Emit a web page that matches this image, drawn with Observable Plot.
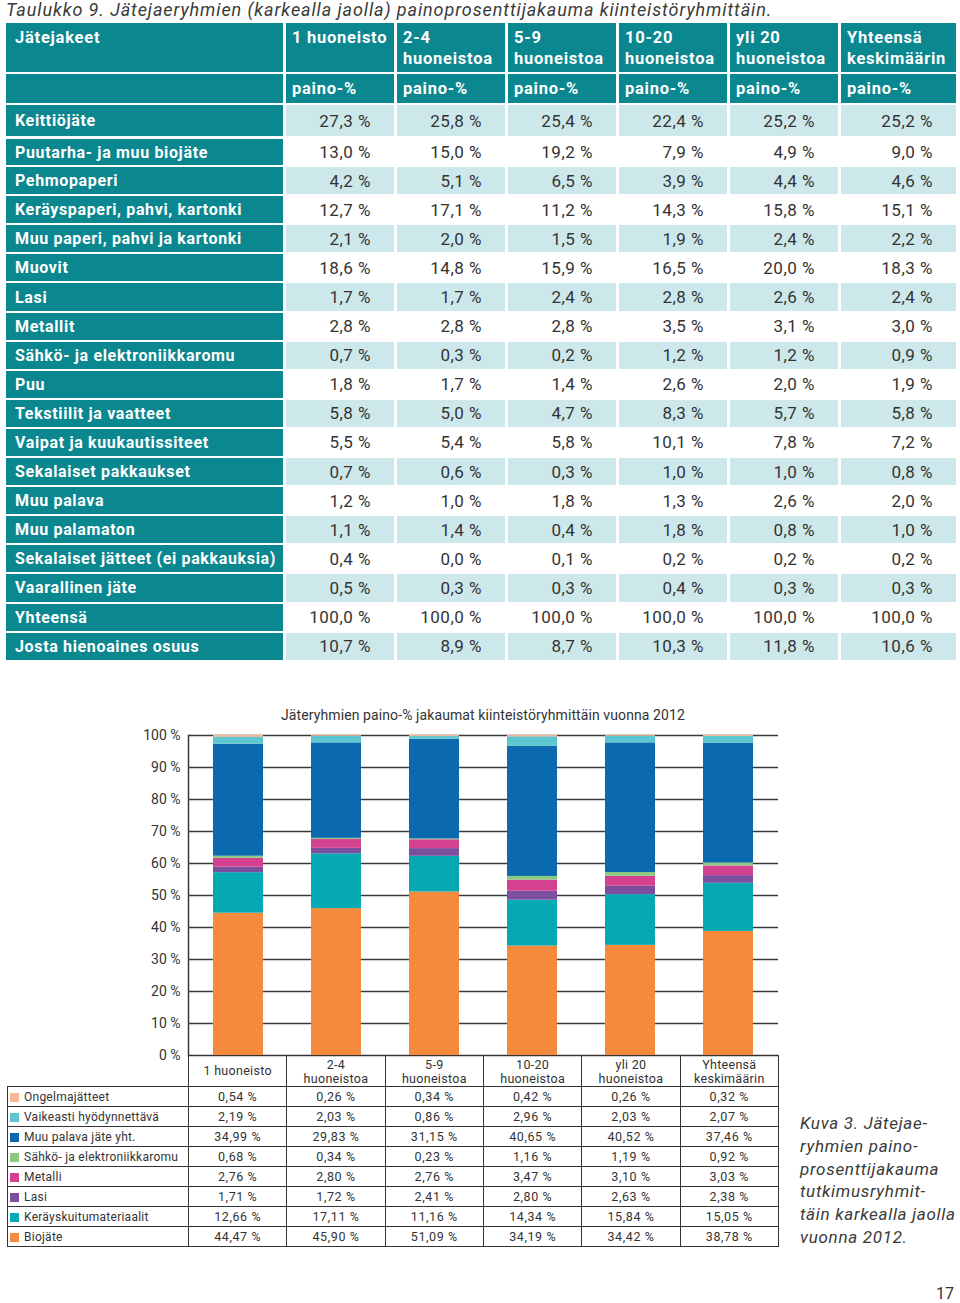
<!DOCTYPE html>
<html>
<head>
<meta charset="utf-8">
<script src="https://cdn.jsdelivr.net/npm/d3@7"></script>
<script src="https://cdn.jsdelivr.net/npm/@observablehq/plot@0.6"></script>
<style>
  body { margin: 0; background: #fff; font-family: Roboto, "Open Sans", sans-serif; color: #333; }
  #page { position: relative; width: 960px; height: 1303px; overflow: hidden; background: #fff; }
  #title { position: absolute; left: 6px; top: -1px; font-size: 18px; font-style: italic; letter-spacing: 0.9px; line-height: 22px; color: #3a3a3a; white-space: nowrap; }
  #tbl { position: absolute; left: 3px; top: 21px; border-collapse: separate; border-spacing: 3px 2px; table-layout: fixed; }
  #tbl td { padding: 0; overflow: hidden; white-space: nowrap; }
  #tbl td.lab { background: #0b8790; color: #fff; font-weight: 700; font-size: 16px; letter-spacing: 0.65px; padding-left: 9px; }
  #tbl td.hd { background: #0b8790; color: #fff; font-weight: 700; font-size: 16.5px; letter-spacing: 0.75px; padding-left: 6px; vertical-align: top; line-height: 21px; padding-top: 4px; }
  #tbl td.hd2 { background: #0b8790; color: #fff; font-weight: 700; font-size: 16.5px; letter-spacing: 0.75px; padding-left: 6px; }
  #tbl td.val { text-align: right; padding-right: 23px; font-size: 17px; letter-spacing: 0.5px; color: #333; }
  #tbl td.shade { background: #cde8eb; }
  #ctitle { position: absolute; left: 188px; width: 590px; top: 707px; text-align: center; font-size: 14px; letter-spacing: 0.1px; color: #333; }
  #plot { position: absolute; left: 0; top: 725px; }
  #ctbl { position: absolute; left: 7px; top: 1055px; border-collapse: collapse; table-layout: fixed; font-size: 12px; color: #333; }
  #ctbl td { border: 1px solid #333; padding: 0; white-space: nowrap; overflow: hidden; }
  #ctbl td.corner { border-top: none; border-left: none; }
  #ctbl td.ch { text-align: center; line-height: 14px; height: 30px; font-size: 12.5px; letter-spacing: 0.3px; }
  #ctbl td.cv { text-align: center; height: 19px; font-size: 12.5px; letter-spacing: 0.6px; }
  #ctbl td.cl { padding-left: 2px; height: 19px; letter-spacing: 0.25px; }
  .sw { display: inline-block; width: 9px; height: 9px; margin-right: 5px; vertical-align: -1px; }
  #caption { position: absolute; left: 800px; top: 1112px; font-size: 17px; font-style: italic; letter-spacing: 0.7px; line-height: 22.8px; color: #3a3a3a; white-space: nowrap; }
  #pnum { position: absolute; left: 936px; top: 1286px; font-size: 16px; line-height: 16px; color: #333; }
</style>
</head>
<body>
<div id="page">
  <div id="title">Taulukko 9. Jätejaeryhmien (karkealla jaolla) painoprosenttijakauma kiinteistöryhmittäin.</div>
  <table id="tbl"></table>
  <div id="ctitle">Jäteryhmien paino-% jakaumat kiinteistöryhmittäin vuonna 2012</div>
  <div id="plot"></div>
  <table id="ctbl"></table>
  <div id="caption">Kuva 3. Jätejae-<br>ryhmien paino-<br>prosenttijakauma<br>tutkimusryhmit-<br>täin karkealla jaolla<br>vuonna 2012.</div>
  <div id="pnum">17</div>
</div>
<script>
// ---------- Table data (Taulukko 9) ----------
const tableFirstHeader = "Jätejakeet";
const tableColumns = [["1 huoneisto"], ["2-4", "huoneistoa"], ["5-9", "huoneistoa"], ["10-20", "huoneistoa"], ["yli 20", "huoneistoa"], ["Yhteensä", "keskimäärin"]];
const tableUnit = "paino-%";
const tableRows = [
  "Keittiöjäte", "Puutarha- ja muu biojäte", "Pehmopaperi", "Keräyspaperi, pahvi, kartonki",
  "Muu paperi, pahvi ja kartonki", "Muovit", "Lasi", "Metallit", "Sähkö- ja elektroniikkaromu",
  "Puu", "Tekstiilit ja vaatteet", "Vaipat ja kuukautissiteet", "Sekalaiset pakkaukset",
  "Muu palava", "Muu palamaton", "Sekalaiset jätteet (ei pakkauksia)", "Vaarallinen jäte",
  "Yhteensä", "Josta hienoaines osuus"
];
const tableValues = [
  [27.3, 25.8, 25.4, 22.4, 25.2, 25.2],
  [13.0, 15.0, 19.2, 7.9, 4.9, 9.0],
  [4.2, 5.1, 6.5, 3.9, 4.4, 4.6],
  [12.7, 17.1, 11.2, 14.3, 15.8, 15.1],
  [2.1, 2.0, 1.5, 1.9, 2.4, 2.2],
  [18.6, 14.8, 15.9, 16.5, 20.0, 18.3],
  [1.7, 1.7, 2.4, 2.8, 2.6, 2.4],
  [2.8, 2.8, 2.8, 3.5, 3.1, 3.0],
  [0.7, 0.3, 0.2, 1.2, 1.2, 0.9],
  [1.8, 1.7, 1.4, 2.6, 2.0, 1.9],
  [5.8, 5.0, 4.7, 8.3, 5.7, 5.8],
  [5.5, 5.4, 5.8, 10.1, 7.8, 7.2],
  [0.7, 0.6, 0.3, 1.0, 1.0, 0.8],
  [1.2, 1.0, 1.8, 1.3, 2.6, 2.0],
  [1.1, 1.4, 0.4, 1.8, 0.8, 1.0],
  [0.4, 0.0, 0.1, 0.2, 0.2, 0.2],
  [0.5, 0.3, 0.3, 0.4, 0.3, 0.3],
  [100.0, 100.0, 100.0, 100.0, 100.0, 100.0],
  [10.7, 8.9, 8.7, 10.3, 11.8, 10.6]
];

// ---------- Chart data (Kuva 3) ----------
const groups = ["1 huoneisto", "2-4 huoneistoa", "5-9 huoneistoa", "10-20 huoneistoa", "yli 20 huoneistoa", "Yhteensä keskimäärin"];
const groupLabels = [["1 huoneisto"], ["2-4", "huoneistoa"], ["5-9", "huoneistoa"], ["10-20", "huoneistoa"], ["yli 20", "huoneistoa"], ["Yhteensä", "keskimäärin"]];
const seriesNames = ["Ongelmajätteet", "Vaikeasti hyödynnettävä", "Muu palava jäte yht.", "Sähkö- ja elektroniikkaromu", "Metalli", "Lasi", "Keräyskuitumateriaalit", "Biojäte"];
const seriesColors = ["#f7b896", "#5ec6ce", "#0a6aad", "#8cc981", "#d4428f", "#7b4f9e", "#05a9b3", "#f58a3c"];
const ongelmajatteet = [0.54, 0.26, 0.34, 0.42, 0.26, 0.32];
const vaikeasti = [2.19, 2.03, 0.86, 2.96, 2.03, 2.07];
const muuPalava = [34.99, 29.83, 31.15, 40.65, 40.52, 37.46];
const sahko = [0.68, 0.34, 0.23, 1.16, 1.19, 0.92];
const metalli = [2.76, 2.80, 2.76, 3.47, 3.10, 3.03];
const lasi = [1.71, 1.72, 2.41, 2.80, 2.63, 2.38];
const kerayskuitu = [12.66, 17.11, 11.16, 14.34, 15.84, 15.05];
const biojate = [44.47, 45.90, 51.09, 34.19, 34.42, 38.78];
const seriesValues = [ongelmajatteet, vaikeasti, muuPalava, sahko, metalli, lasi, kerayskuitu, biojate];
const yTicks = [0, 10, 20, 30, 40, 50, 60, 70, 80, 90, 100];

const fmt1 = v => v.toFixed(1).replace(".", ",") + " %";
const fmt2 = v => v.toFixed(2).replace(".", ",") + " %";

// ---------- Build top table ----------
(function () {
  const t = document.getElementById("tbl");
  const widths = [277, 108, 108, 108, 108, 108, 115];
  const cg = document.createElement("colgroup");
  widths.forEach(w => {
    const c = document.createElement("col"); c.style.width = w + "px"; cg.appendChild(c);
  });
  t.appendChild(cg);
  t.style.width = (d3.sum(widths) + 8 * 3) + "px";
  // header row 1
  let tr = document.createElement("tr"); tr.style.height = "49px";
  let td = document.createElement("td"); td.className = "hd"; td.textContent = tableFirstHeader; td.style.paddingLeft = "9px"; tr.appendChild(td);
  tableColumns.forEach(lines => {
    const c = document.createElement("td"); c.className = "hd"; c.innerHTML = lines.join("<br>"); tr.appendChild(c);
  });
  t.appendChild(tr);
  // header row 2
  tr = document.createElement("tr"); tr.style.height = "29px";
  td = document.createElement("td"); td.className = "hd2"; tr.appendChild(td);
  tableColumns.forEach(() => {
    const c = document.createElement("td"); c.className = "hd2"; c.textContent = tableUnit; tr.appendChild(c);
  });
  t.appendChild(tr);
  // body
  tableRows.forEach((name, i) => {
    const r = document.createElement("tr");
    r.style.height = (i === 0 ? 31 : 27.1) + "px";
    const l = document.createElement("td"); l.className = "lab"; l.textContent = name; r.appendChild(l);
    tableValues[i].forEach(v => {
      const c = document.createElement("td");
      c.className = "val" + (i % 2 === 0 ? " shade" : "");
      c.textContent = fmt1(v);
      r.appendChild(c);
    });
    if (i === 1) { r.querySelectorAll("td").forEach(c => c.style.borderTop = "1px solid #fff"); }
    t.appendChild(r);
  });
})();

// ---------- Chart ----------
const chartData = [];
for (let s = seriesNames.length - 1; s >= 0; s--) {
  groups.forEach((g, j) => chartData.push({ group: g, series: seriesNames[s], value: seriesValues[s][j] }));
}

const chart = Plot.plot({
  width: 790,
  height: 337,
  marginLeft: 188,
  marginRight: 12,
  marginTop: 10,
  marginBottom: 7,
  style: { fontFamily: "Roboto, sans-serif", fontSize: "14px", color: "#333", background: "transparent" },
  x: { domain: groups, axis: null, paddingInner: 0.49, paddingOuter: 0.245 },
  y: { domain: [0, 100], ticks: yTicks, tickFormat: d => d + " %", tickSize: 0, tickPadding: 8, label: null },
  color: { domain: seriesNames, range: seriesColors },
  marks: [
    Plot.ruleY(yTicks, { stroke: "#3a3a3a", strokeWidth: 1.5 }),
    Plot.barY(chartData, { x: "group", y: "value", fill: "series" }),
    Plot.frame({ anchor: "left", stroke: "#3a3a3a", strokeWidth: 1.5 })
  ]
});
document.getElementById("plot").appendChild(chart);

// ---------- Chart data table with legend ----------
(function () {
  const t = document.getElementById("ctbl");
  const step = 590 / 6;
  const cg = document.createElement("colgroup");
  const c0 = document.createElement("col"); c0.style.width = "181px"; cg.appendChild(c0);
  groups.forEach(() => { const c = document.createElement("col"); c.style.width = step + "px"; cg.appendChild(c); });
  t.appendChild(cg);
  t.style.width = (181 + 590) + "px";
  let tr = document.createElement("tr");
  let td = document.createElement("td"); td.className = "corner"; tr.appendChild(td);
  groupLabels.forEach(lines => {
    const c = document.createElement("td"); c.className = "ch";
    c.innerHTML = lines.join("<br>");
    if (lines.length > 1) { c.style.verticalAlign = "bottom"; }
    tr.appendChild(c);
  });
  t.appendChild(tr);
  seriesNames.forEach((name, s) => {
    const r = document.createElement("tr");
    const l = document.createElement("td"); l.className = "cl";
    const sw = document.createElement("span"); sw.className = "sw"; sw.style.background = seriesColors[s];
    l.appendChild(sw); l.appendChild(document.createTextNode(name));
    r.appendChild(l);
    seriesValues[s].forEach(v => {
      const c = document.createElement("td"); c.className = "cv"; c.textContent = fmt2(v); r.appendChild(c);
    });
    t.appendChild(r);
  });
})();
</script>
</body>
</html>
